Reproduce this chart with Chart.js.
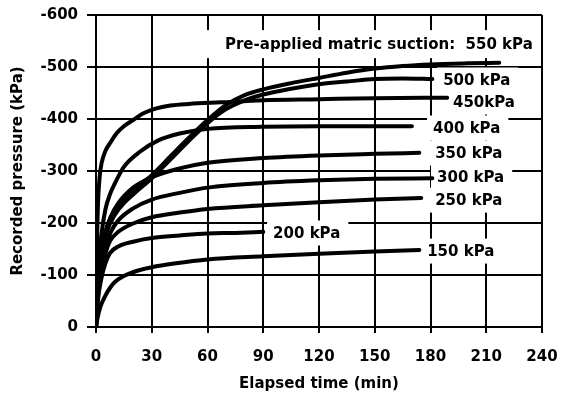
<!DOCTYPE html>
<html>
<head>
<meta charset="utf-8">
<script src="https://cdn.jsdelivr.net/npm/chart.js@4/dist/chart.umd.min.js"></script>
<style>
  html, body { margin: 0; padding: 0; background: #fff; }
  #wrap { width: 562px; height: 398px; position: relative; }
</style>
</head>
<body>
<div id="wrap"><canvas id="c"></canvas></div>
<script>
// ---- data (elapsed time in min, recorded pressure in kPa) ----
const xTicks = [0, 30, 60, 90, 120, 150, 180, 210, 240];
const yTicks = [0, -100, -200, -300, -400, -500, -600];

const t550 = [0, 1, 3, 6, 10, 15, 20, 30, 40, 50, 60, 70, 80, 90, 105, 120, 135, 150, 165, 180, 200, 217];
const p550 = [0, -90, -150, -195, -225, -245, -262, -292, -328, -364, -398, -427, -446, -457, -469, -479, -489, -497, -502, -505, -507, -508];

const t500 = [0, 1, 3, 6, 10, 15, 20, 30, 40, 50, 60, 70, 80, 90, 105, 120, 135, 150, 165, 181];
const p500 = [0, -85, -140, -185, -215, -238, -255, -286, -322, -358, -392, -419, -436, -447, -458, -467, -472, -477, -478, -477];

const t450 = [0, 0.5, 1, 2, 3, 5, 8, 11, 15, 20, 25, 32, 40, 50, 67, 90, 120, 150, 189];
const p450 = [0, -150, -230, -290, -315, -338, -356, -372, -386, -398, -410, -420, -426, -429, -432, -436, -438, -440, -441];

const t400 = [0, 1, 3, 5, 7.5, 10, 15, 24, 33, 45, 60, 90, 120, 150, 170];
const p400 = [0, -105, -180, -225, -255, -275, -308, -338, -358, -372, -381, -385, -386, -386, -386];

const t350 = [0, 1, 3, 5, 8, 12, 20, 30, 45, 60, 90, 120, 150, 174];
const p350 = [0, -80, -140, -178, -212, -238, -268, -288, -305, -316, -325, -330, -333, -335];

const t300 = [0, 1, 3, 5, 8, 12, 20, 30, 45, 60, 90, 120, 150, 181];
const p300 = [0, -70, -120, -153, -183, -205, -228, -245, -258, -268, -277, -282, -285, -286];

const t250 = [0, 1, 3, 5, 7.5, 12, 20, 30, 45, 60, 90, 120, 150, 175];
const p250 = [0, -60, -108, -140, -165, -183, -199, -211, -220, -227, -234, -240, -245, -248];

const t200 = [0, 1, 3, 5, 7.5, 12, 20, 30, 45, 60, 75, 90];
const p200 = [0, -50, -95, -122, -142, -155, -164, -171, -176, -180, -181, -183];

const t150 = [0, 1, 2.5, 5, 7.5, 10, 15, 24, 30, 42, 60, 90, 120, 150, 174];
const p150 = [0, -20, -40, -60, -75, -86, -98, -110, -115, -122, -130, -136, -141, -145, -148];

const seriesNames = ['550 kPa', '500 kPa', '450 kPa', '400 kPa', '350 kPa', '300 kPa', '250 kPa', '200 kPa', '150 kPa'];
const seriesT = [t550, t500, t450, t400, t350, t300, t250, t200, t150];
const seriesP = [p550, p500, p450, p400, p350, p300, p250, p200, p150];

// curve labels: text and anchor (left edge, vertical centre) in data units
const labelTexts = ['Pre-applied matric suction:  550 kPa', '500 kPa', '450kPa', '400 kPa', '350 kPa', '300 kPa', '250 kPa', '200 kPa', '150 kPa'];
const labelT = [69.4, 186.8, 192.1, 181.4, 182.5, 183.5, 182.5, 95.3, 178.2];
const labelP = [-544, -475, -432.7, -382.7, -334.6, -288.5, -244, -180.8, -146];

// ---- chart ----
const FONT = '"DejaVu Sans", Arial, sans-serif';

const datasets = seriesNames.map((name, i) => ({
  label: name,
  data: seriesT[i].map((t, k) => ({ x: t, y: seriesP[i][k] })),
  borderColor: '#000',
  borderWidth: 4,
  pointRadius: 0,
  fill: false,
  cubicInterpolationMode: 'monotone',
  borderCapStyle: 'round',
  borderJoinStyle: 'round'
}));

const labelPlugin = {
  id: 'curveLabels',
  beforeDatasetsDraw(chart) {
    const ctx = chart.ctx;
    const xs = chart.scales.x, ys = chart.scales.y;
    ctx.save();
    ctx.font = 'bold 15px ' + FONT;
    ctx.textBaseline = 'middle';
    ctx.textAlign = 'left';
    labelTexts.forEach((txt, i) => {
      const x = xs.getPixelForValue(labelT[i]);
      const y = ys.getPixelForValue(labelP[i]);
      const w = ctx.measureText(txt).width;
      const padL = i === 0 ? 20 : 6;
      const padR = 8;
      const h = i === 0 ? 28 : 25;
      ctx.fillStyle = '#fff';
      ctx.fillRect(x - padL, y - h / 2, w + padL + padR, h);
      ctx.fillStyle = '#000';
      ctx.fillText(txt, x, y + 1);
    });
    ctx.restore();
  }
};

new Chart(document.getElementById('c'), {
  type: 'line',
  data: { datasets },
  plugins: [labelPlugin],
  options: {
    responsive: true,
    maintainAspectRatio: false,
    animation: false,
    layout: { padding: { left: 0, right: 20, top: 15, bottom: 0 } },
    plugins: { legend: { display: false }, tooltip: { enabled: false } },
    scales: {
      x: {
        type: 'linear',
        min: 0, max: 240,
        afterBuildTicks: (s) => { s.ticks = xTicks.map(v => ({ value: v })); },
        afterFit: (s) => { s.height = 71; s.paddingLeft = 0; s.paddingRight = 0; },
        grid: { color: '#000', lineWidth: 2, tickLength: 6, drawTicks: true, tickColor: '#000', tickWidth: 2 },
        border: { color: '#000', width: 2 },
        ticks: { color: '#000', font: { family: FONT, size: 15, weight: 'bold' }, padding: 15, maxRotation: 0, autoSkip: false },
        title: { display: true, text: 'Elapsed time (min)', color: '#000', font: { family: FONT, size: 15, weight: 'bold' }, padding: { top: 0, bottom: 5 } }
      },
      y: {
        type: 'linear',
        min: -600, max: 0,
        reverse: true,
        afterBuildTicks: (s) => { s.ticks = yTicks.map(v => ({ value: v })); },
        afterFit: (s) => { s.width = 96; s.paddingTop = 0; s.paddingBottom = 0; },
        grid: { color: '#000', lineWidth: 2, tickLength: 9, tickColor: '#000', tickWidth: 2 },
        border: { color: '#000', width: 2 },
        ticks: { color: '#000', font: { family: FONT, size: 15, weight: 'bold' }, padding: 9, callback: (v) => String(v) },
        title: { display: true, text: 'Recorded pressure (kPa)', color: '#000', font: { family: FONT, size: 15, weight: 'bold' }, padding: { top: 9, bottom: 0 } }
      }
    }
  }
});
</script>
</body>
</html>
